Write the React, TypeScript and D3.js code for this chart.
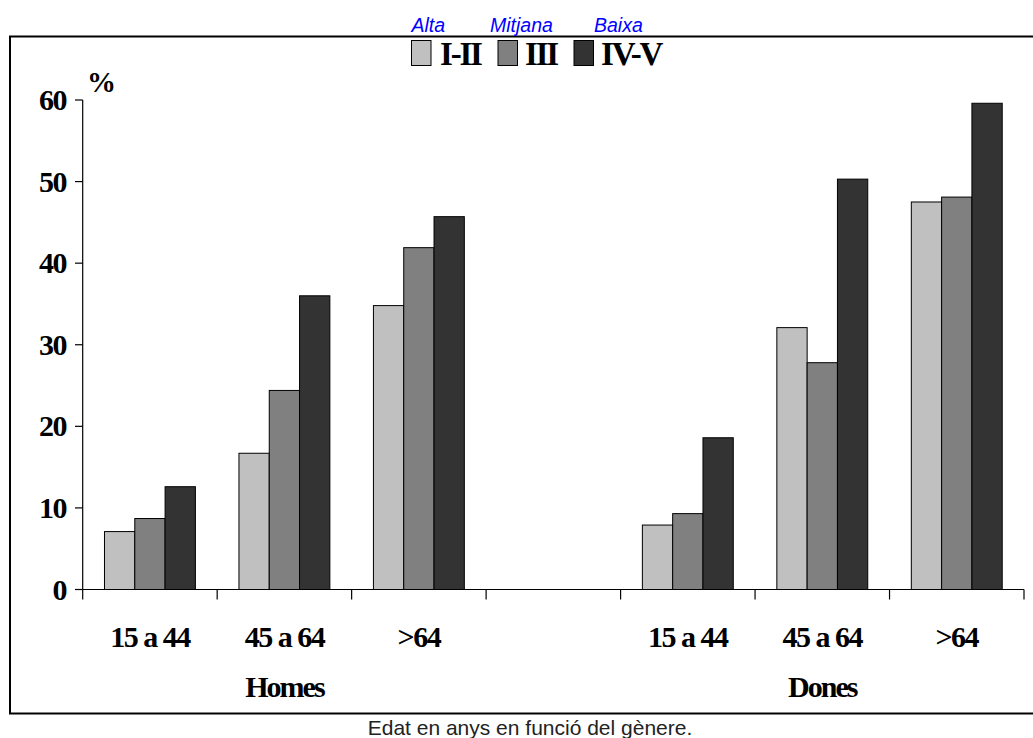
import React from "react";
import * as d3 from "d3";

// Age bands, shown once per gender group
const ageGroups = ["15 a 44", "45 a 64", ">64"];
const genders = ["Homes", "Dones"];
// Social class series and their descriptive level
const classes = ["I-II", "III", "IV-V"];
const classLevels = ["Alta", "Mitjana", "Baixa"];
const classColors = ["#c0c0c0", "#808080", "#333333"];

// Percentages per class, one value per age band
const homesValues = [
  [7.1, 16.7, 34.8], // I-II
  [8.7, 24.4, 41.9], // III
  [12.6, 36.0, 45.7], // IV-V
];
const donesValues = [
  [7.9, 32.1, 47.5],
  [9.3, 27.8, 48.1],
  [18.6, 50.3, 59.6],
];

const yTicks = [0, 10, 20, 30, 40, 50, 60];
const caption = "Edat en anys en funció del gènere.";

const W = 1033;
const H = 738;
const serif = "'Liberation Serif', 'Times New Roman', serif";
const sans = "'Liberation Sans', Arial, sans-serif";

export default function App() {
  // seven slots: three age bands per gender with an empty slot between
  const slots = [
    ...ageGroups.map((a) => `H|${a}`),
    "gap",
    ...ageGroups.map((a) => `D|${a}`),
  ];
  const x = d3.scaleBand<string>().domain(slots).range([82.7, 1024]).padding(0);
  const step = x.step();
  const groupWidth = step * 0.676;
  const xInner = d3
    .scaleBand<string>()
    .domain(classes)
    .range([0, groupWidth])
    .padding(0);
  const y = d3.scaleLinear().domain([0, 60]).range([589.5, 100]);
  const y0 = y(0);

  const bars: { key: string; x: number; w: number; v: number; fill: string }[] = [];
  const addGroup = (prefix: string, values: number[][]) => {
    ageGroups.forEach((age, ai) => {
      const slotKey = `${prefix}|${age}`;
      const gx = (x(slotKey) as number) + (step - groupWidth) / 2;
      classes.forEach((c, ci) => {
        bars.push({
          key: `${slotKey}-${c}`,
          x: gx + (xInner(c) as number),
          w: xInner.bandwidth(),
          v: values[ci][ai],
          fill: classColors[ci],
        });
      });
    });
  };
  addGroup("H", homesValues);
  addGroup("D", donesValues);

  const boundaries = d3.range(slots.length + 1).map((i) => 82.7 + i * step);

  const legendBoxes = [411.5, 498, 574];
  const legendText = [440, 525, 601];
  const levelX = [411.5, 490, 594];

  return (
    <svg
      width={W}
      height={H}
      style={{ position: "absolute", left: 0, top: 0, background: "#fff" }}
    >
      {/* frame */}
      <rect x={10} y={36.5} width={1040} height={677} fill="none" stroke="#000" strokeWidth={2} />

      {/* class level labels */}
      {classLevels.map((t, i) => (
        <text
          key={t}
          x={levelX[i]}
          y={31.5}
          fill="#0000ff"
          fontFamily={sans}
          fontStyle="italic"
          fontSize={19.5}
        >
          {t}
        </text>
      ))}

      {/* legend */}
      {classes.map((c, i) => (
        <g key={c}>
          <rect
            x={legendBoxes[i]}
            y={40.5}
            width={19.5}
            height={25}
            fill={classColors[i]}
            stroke="#000"
            strokeWidth={1}
          />
          <text
            x={legendText[i]}
            y={65}
            fontFamily={serif}
            fontWeight="bold"
            fontSize={33}
            letterSpacing={-2.2}
            fill="#000"
          >
            {c}
          </text>
        </g>
      ))}

      {/* bars */}
      {bars.map((b) => (
        <rect
          key={b.key}
          x={b.x}
          y={y(b.v)}
          width={b.w}
          height={y0 - y(b.v)}
          fill={b.fill}
          stroke="#000"
          strokeWidth={1}
        />
      ))}

      {/* y axis */}
      <line x1={82.7} x2={82.7} y1={100} y2={y0} stroke="#000" strokeWidth={1.2} />
      {yTicks.map((t) => (
        <g key={t}>
          <line x1={75} x2={82.7} y1={y(t)} y2={y(t)} stroke="#000" strokeWidth={1.2} />
          <text
            x={66}
            y={y(t) + 10}
            textAnchor="end"
            fontFamily={serif}
            fontWeight="bold"
            fontSize={30}
            letterSpacing={-1.5}
            fill="#000"
          >
            {t}
          </text>
        </g>
      ))}
      <text x={87} y={92} fontFamily={serif} fontWeight="bold" fontSize={29} fill="#000">
        %
      </text>

      {/* x axis */}
      <line x1={82.7} x2={1024} y1={y0} y2={y0} stroke="#000" strokeWidth={1.2} />
      {boundaries.map((bx, i) => (
        <line key={i} x1={bx} x2={bx} y1={y0} y2={y0 + 10} stroke="#000" strokeWidth={1.2} />
      ))}
      {slots
        .filter((s) => s !== "gap")
        .map((s) => (
          <text
            key={s}
            x={(x(s) as number) + step / 2}
            y={647}
            textAnchor="middle"
            fontFamily={serif}
            fontWeight="bold"
            fontSize={30}
            letterSpacing={-1.5}
            fill="#000"
          >
            {s.split("|")[1]}
          </text>
        ))}
      {genders.map((g, gi) => {
        const first = x(`${gi === 0 ? "H" : "D"}|${ageGroups[0]}`) as number;
        return (
          <text
            key={g}
            x={first + (step * ageGroups.length) / 2}
            y={697}
            textAnchor="middle"
            fontFamily={serif}
            fontWeight="bold"
            fontSize={30}
            letterSpacing={-2}
            fill="#000"
          >
            {g}
          </text>
        );
      })}

      {/* caption */}
      <text x={530} y={735} textAnchor="middle" fontFamily={sans} fontSize={21} fill="#222">
        {caption}
      </text>
    </svg>
  );
}
